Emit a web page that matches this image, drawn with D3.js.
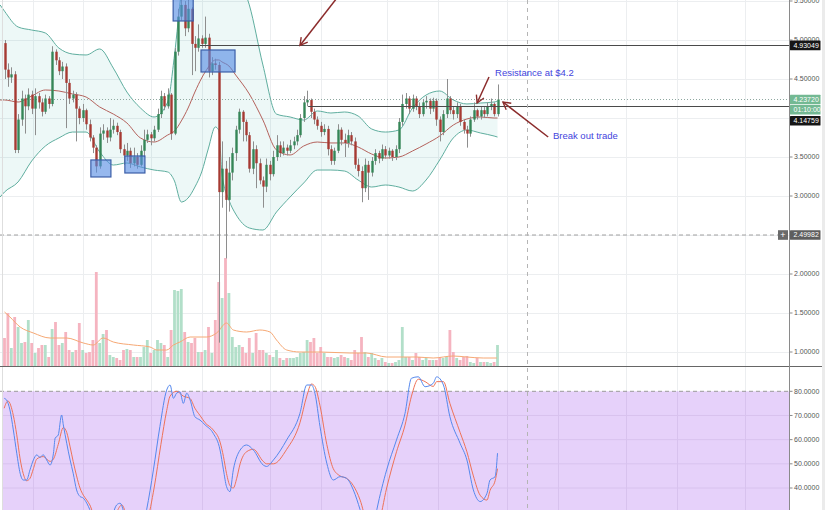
<!DOCTYPE html>
<html><head><meta charset="utf-8">
<script src="https://cdn.jsdelivr.net/npm/d3@7"></script>
<style>body{margin:0;background:#fff;overflow:hidden}svg{display:block;font-family:"Liberation Sans",Arial,sans-serif}</style>
</head><body><svg id="c" width="825" height="510"></svg>
<script>
// ---------- DATA ----------
const opens=[4.96,4.62,4.52,4.56,3.59,3.98,4.25,4.15,4.30,4.12,4.28,4.20,4.08,4.25,4.18,4.85,4.74,4.60,4.66,4.45,4.25,4.30,4.12,4.00,4.10,3.92,3.75,3.62,3.38,3.80,3.84,3.75,3.85,3.90,3.82,3.60,3.52,3.58,3.42,3.50,3.40,3.58,3.72,3.79,3.74,3.85,4.05,4.28,4.15,4.30,3.80,4.85,5.30,5.45,5.15,5.40,4.95,4.90,5.02,4.95,5.03,4.60,4.70,4.68,3.05,3.35,2.95,3.30,3.55,3.85,4.08,3.95,3.78,3.35,3.60,3.42,3.20,3.12,3.40,3.28,3.50,3.65,3.55,3.62,3.58,3.65,3.70,3.78,4.00,4.20,4.23,4.08,3.98,3.90,3.82,3.86,3.60,3.45,3.58,3.85,3.72,3.68,3.78,3.70,3.40,3.32,3.10,3.40,3.30,3.45,3.55,3.48,3.60,3.52,3.58,3.50,3.60,3.95,4.18,4.25,4.12,4.25,4.15,4.05,4.20,4.22,4.12,4.22,3.98,3.82,4.05,4.25,4.10,4.05,4.15,3.95,3.85,3.80,3.98,4.10,4.02,4.10,4.05,4.15,4.18,4.05];
const highs=[5.00,4.70,4.65,4.60,4.05,4.35,4.30,4.38,4.35,4.38,4.32,4.25,4.30,4.28,4.92,4.88,4.78,4.72,4.70,4.50,4.35,4.33,4.15,4.18,4.12,3.98,3.78,3.65,3.88,3.92,3.88,4.00,3.98,3.94,3.85,3.66,3.68,3.62,3.62,3.55,3.65,3.85,3.85,3.82,3.90,4.12,4.35,4.32,4.38,4.32,4.90,5.40,5.60,5.50,5.55,5.42,5.05,5.20,5.06,5.30,5.08,4.78,4.76,4.72,3.70,3.45,3.50,3.62,3.90,4.12,4.10,3.98,3.82,3.70,3.65,3.48,3.25,3.48,3.45,3.58,3.78,3.70,3.70,3.66,3.72,3.76,3.85,4.05,4.28,4.35,4.25,4.12,4.02,3.95,3.92,3.90,3.65,3.62,3.92,3.88,3.80,3.85,3.82,3.75,3.48,3.38,3.48,3.45,3.50,3.60,3.58,3.66,3.64,3.62,3.60,3.65,4.00,4.30,4.32,4.28,4.30,4.28,4.20,4.24,4.28,4.25,4.26,4.25,4.02,4.10,4.50,4.28,4.15,4.20,4.18,3.98,3.90,4.02,4.20,4.12,4.15,4.14,4.20,4.25,4.20,4.43];
const lows=[4.50,4.40,4.45,3.55,3.55,3.90,3.80,4.10,4.05,3.78,4.12,4.02,4.05,4.12,4.15,4.68,4.55,4.50,3.87,4.18,4.20,3.70,3.92,3.95,3.85,3.70,3.55,3.30,3.35,3.72,3.68,3.70,3.80,3.78,3.55,3.40,3.45,3.36,3.38,3.35,3.38,3.50,3.68,3.65,3.70,3.82,4.00,4.10,4.12,3.72,3.78,4.80,5.25,5.05,5.10,4.55,4.60,4.85,4.90,4.90,4.52,4.55,4.62,1.12,2.85,2.20,2.80,3.20,3.45,3.80,3.70,3.70,3.30,3.28,3.10,3.15,2.85,3.05,3.20,3.25,3.45,3.50,3.52,3.52,3.55,3.60,3.65,3.75,3.95,4.15,4.00,3.92,3.85,3.76,3.78,3.52,3.40,3.40,3.55,3.65,3.50,3.62,3.65,3.35,3.25,2.92,3.05,2.95,3.25,3.40,3.42,3.45,3.48,3.48,3.45,3.46,3.55,3.90,4.12,4.05,4.08,4.10,4.00,4.02,4.12,4.05,4.08,3.90,3.70,3.78,4.00,4.05,3.98,4.00,3.90,3.80,3.62,3.76,3.95,3.98,3.98,4.00,4.02,4.10,4.02,4.02];
const closes=[4.62,4.52,4.56,3.59,3.98,4.25,4.15,4.30,4.12,4.28,4.20,4.08,4.25,4.18,4.85,4.74,4.60,4.66,4.45,4.25,4.30,4.12,4.00,4.10,3.92,3.75,3.62,3.38,3.80,3.84,3.75,3.85,3.90,3.82,3.60,3.52,3.58,3.42,3.50,3.40,3.58,3.72,3.79,3.74,3.85,4.05,4.28,4.15,4.30,3.80,4.85,5.30,5.45,5.15,5.40,4.95,4.90,5.02,4.95,5.03,4.60,4.70,4.68,3.05,3.35,2.95,3.30,3.55,3.85,4.08,3.95,3.78,3.35,3.60,3.42,3.20,3.12,3.40,3.28,3.50,3.65,3.55,3.62,3.58,3.65,3.70,3.78,4.00,4.20,4.23,4.08,3.98,3.90,3.82,3.86,3.60,3.45,3.58,3.85,3.72,3.68,3.78,3.70,3.40,3.32,3.10,3.40,3.30,3.45,3.55,3.48,3.60,3.52,3.58,3.50,3.60,3.95,4.18,4.25,4.12,4.25,4.15,4.05,4.20,4.22,4.12,4.22,3.98,3.82,4.05,4.25,4.10,4.05,4.15,3.95,3.85,3.80,3.98,4.10,4.02,4.10,4.05,4.15,4.18,4.05,4.2372];
const volumes=[28,53,18,49,39,23,24,46,23,13,18,21,21,9,37,44,21,23,34,16,14,16,43,16,13,14,26,94,23,32,36,11,9,8,6,16,17,16,9,9,9,19,26,13,16,26,23,21,9,36,76,75,77,34,24,23,28,14,14,16,39,13,46,84,68,108,73,29,19,21,19,13,28,13,33,16,16,13,11,9,16,8,6,8,8,8,9,13,14,26,24,28,13,19,13,9,9,8,9,11,9,8,6,16,13,29,14,9,13,8,6,8,4,3,3,4,6,39,9,9,6,13,9,6,8,6,6,6,9,8,9,36,14,8,6,9,10,4,3,8,4,4,4,3,4,21];

// Bollinger bands (bar index, price)
const bbIdx=[-1.3,0,4,8,12,16,20,24,28,32,36,40,44,48,50,52,54,56,58,60,62,63,64,66,68,72,76,80,84,88,92,96,100,104,108,112,116,120,124,128,132,136,140,144,145];
const bbUpper=[5.45,5.37,5.167,5.128,5.09,4.897,4.82,4.808,4.885,4.64,4.333,4.128,4.013,4.205,4.808,5.615,6.15,6.41,6.51,6.47,6.36,6.31,6.22,6.05,5.87,5.45,4.68,4.05,4.013,3.974,4.09,4.064,4.077,4.026,3.859,3.82,3.846,4.128,4.295,4.346,4.231,4.18,4.192,4.205,4.218];
const bbMiddle=[4.231,4.231,4.205,4.282,4.359,4.346,4.308,4.269,4.141,4.051,3.936,3.744,3.692,3.782,3.833,3.962,4.128,4.333,4.513,4.654,4.744,4.744,4.718,4.667,4.551,4.308,3.974,3.59,3.526,3.641,3.692,3.68,3.68,3.628,3.538,3.487,3.5,3.577,3.667,3.769,3.91,3.987,4.013,4.0,4.0];
const bbLower=[2.987,3.051,3.18,3.449,3.64,3.744,3.82,3.82,3.564,3.397,3.423,3.372,3.333,3.308,3.192,2.923,2.974,3.115,3.308,3.615,3.885,3.846,3.269,2.949,2.769,2.59,2.564,2.795,2.987,3.167,3.333,3.333,3.32,3.205,3.115,3.141,3.115,3.064,3.205,3.462,3.744,3.846,3.808,3.769,3.756];

// Volume moving average
const vmaIdx=[0,1.6,4.6,8.5,13.4,18.3,23.2,26.1,29,32,37.9,42.8,44.8,47.7,49.7,51.6,54.6,59.5,62.4,65.3,67.3,71.2,75.1,78.1,80,83,86.9,92.8,101.6,106.5,112.4,121.2,126.1,132,135.9,140.8,144.8];
const vmaVal=[54,49,39,33,28,28,23,21,28,24,21,19,16,16,21,24,29,29,33,43,36,34,36,34,26,16,14,14,13,13,9,9,8,10,9,8,8];

// Stochastic %K / %D
const kIdx=[-0.1,0.6,1.6,2.6,3.6,4.6,5.5,6.5,7.5,8.5,9.5,10.4,11.4,12.4,13.4,14.4,14.9,15.8,16.8,17.3,18.3,19.3,20.2,21.2,22.2,23.2,24.2,25.1,27,29,31,33,34,36,38,40,41.8,43.8,45.7,47.7,48.7,49.7,50.6,51.6,52.6,53.6,54.6,56,57.5,59,61.4,63.4,64.4,65.3,66.3,67.3,69.3,71.2,73.2,76.1,77.1,79.1,83,86.9,88.9,90.3,91.3,92.8,94.8,96.7,98.7,100.6,102.6,104.6,106.5,108.5,109.5,112.4,115.3,117.8,119.7,121.7,123.7,126.1,127.1,129.1,131,134,136,137.9,139.9,141.9,142.8,144.3,145];
const kVal=[77.1,76.4,72.3,64.0,54.4,46.1,43.3,43.3,47.5,51.6,53.7,52.7,53.7,51.6,49.5,54.4,60.6,61.9,70.2,66.1,58.5,51.6,46.1,39.2,36.5,35.8,33.7,31,22,18,25,33,33.7,25,18,20,31,47.5,65.4,80.5,82.6,77.1,79.2,79.8,75.0,79.2,76.4,69.5,68.1,66.1,62.6,55.7,47.5,40.6,38.5,47.5,55.7,57.8,55.7,49.5,48.9,51.6,59.9,70.9,82.6,82.6,79.2,65.4,50.2,43.3,44.7,44.0,39.2,31,22,24,31,47.5,59.9,70.9,85.4,86.0,81.9,83.3,86.0,82.6,69.5,58.5,51.6,39.2,34.4,37.8,43.3,44.7,54.4];
const dIdx=[-0.1,1,2.6,3.6,4.6,5.5,6.5,7.5,8.5,9.5,11.4,13.4,14.4,15.8,17.3,18.3,19.3,20.2,21.2,22.2,23.2,24.2,25.1,27,29,31,33,34.5,36,38,40,42,44,46,47.7,48.7,50.6,52.6,54.6,56,57.5,59,61.4,63.4,64.4,65.3,66.3,67.3,68.3,69.3,71.2,73.2,76.1,77.1,79.1,83,86.9,88.9,90.3,91.3,92.8,94.8,96.7,98.7,100.6,102.6,104.6,106.5,108.5,110,112.4,115.3,117.8,119.7,121.7,123.7,126.1,127.1,129.1,131,134,136,137.9,139.9,141.9,142.8,144.3,145];
const dVal=[73,76,70,62,52,46,43,44,48,52,53,51,52,58,65,63,57,51,45,40,37,35,33,25,20,22,30,33,28,20,18,26,40,58,72,78,80,78,77,73,70,67,64,59,53,46,41,40,44,50,55,56,51,50,50,56,67,78,83,82,74,58,48,45,44,41,35,26,22,25,40,55,66,78,85,84,82,84,84,75,63,55,45,37,35,39,43,48];

// Axis ticks and time grid
const priceTicks=[1.0,1.5,2.0,2.5,3.0,3.5,4.0,4.5,5.0,5.5];
const stochTicks=[40,50,60,70,80];
const timeGridIdx=[8.4,23.1,43.1,58.1,78.1,93.1,112.5,127.5,147.8,162.8,182.8,197.8,217.8];

// Drawings / annotations
const levelLines=[{price:4.93049,from:57.5},{price:4.14759,from:89.3}];
const boxes=[{i0:25.4,i1:31.3,p0:3.462,p1:3.244},{i0:35.4,i1:41.3,p0:3.513,p1:3.295},{i0:49.6,i1:55.5,p0:5.52,p1:5.244},{i0:57.8,i1:67.8,p0:4.872,p1:4.59}];
const arrows=[{fi:97.8,fp:5.54,ti:86.9,tp:4.93},{fi:142.5,fp:4.526,ti:139,tp:4.192},{fi:159.9,fp:3.756,ti:146.6,tp:4.205}];
const notes=[{text:"Resistance at $4.2",i:144.3,p:4.539},{text:"Break out trade",i:161.3,p:3.731}];
const lastPrice=4.2372, countdown="01:10:00", crossPrice=2.49982, markerIdx=153.7;

// ---------- DRAW ----------
const svg=d3.select("#c");
const W=789;
const x=d3.scaleLinear().domain([0,145]).range([4.5,497.5]);
const yP=d3.scaleLinear().domain([1,5.5]).range([352,1]);
const yV=d3.scaleLinear().domain([0,108]).range([366,258]);
const yS=d3.scaleLinear().domain([40,80]).range([488,391.3]);

const defs=svg.append("defs");
defs.append("clipPath").attr("id","cm").append("rect").attr("x",0).attr("y",0).attr("width",W).attr("height",366);
defs.append("clipPath").attr("id","cs").append("rect").attr("x",0).attr("y",367).attr("width",W).attr("height",143);
defs.append("marker").attr("id","ah").attr("markerUnits","userSpaceOnUse").attr("viewBox","-1 -6 12 12")
  .attr("refX",9).attr("refY",0).attr("markerWidth",11).attr("markerHeight",11).attr("orient","auto")
  .append("path").attr("d","M1,-4.5L9,0L1,4.5").attr("fill","none").attr("stroke","#8b2b2b").attr("stroke-width",1.5);

svg.append("rect").attr("width",825).attr("height",510).attr("fill","#fff");

// grids
const g=svg.append("g");
g.selectAll(".hg").data(priceTicks).join("line").attr("x1",0).attr("x2",W)
  .attr("y1",d=>Math.round(yP(d))+0.5).attr("y2",d=>Math.round(yP(d))+0.5).attr("stroke","#eceef0");
g.selectAll(".vg").data(timeGridIdx).join("line").attr("y1",0).attr("y2",510)
  .attr("x1",d=>Math.round(x(d))+0.5).attr("x2",d=>Math.round(x(d))+0.5).attr("stroke","#eceef0");

// stochastic band fill
const sg=svg.append("g").attr("clip-path","url(#cs)");
sg.append("rect").attr("x",3).attr("width",W-3).attr("y",yS(80)).attr("height",200).attr("fill","#e6d1fa");
sg.selectAll(".sgl").data(stochTicks.filter(d=>d<80)).join("line").attr("x1",3).attr("x2",W)
  .attr("y1",d=>yS(d)).attr("y2",d=>yS(d)).attr("stroke","#d8c2ee");
sg.selectAll(".svg").data(timeGridIdx).join("line").attr("y1",yS(80)).attr("y2",510)
  .attr("x1",d=>Math.round(x(d))+0.5).attr("x2",d=>Math.round(x(d))+0.5).attr("stroke","#d8c2ee");
sg.append("line").attr("x1",0).attr("x2",W).attr("y1",yS(80)).attr("y2",yS(80))
  .attr("stroke","#9a9a9a").attr("stroke-dasharray","4,3");
const kPts=kIdx.map((d,i)=>[x(d),yS(kVal[i])]);
const dPts=dIdx.map((d,i)=>[x(d),yS(dVal[i])]);
const ln=d3.line().curve(d3.curveMonotoneX);
sg.append("path").attr("d",ln(dPts)).attr("fill","none").attr("stroke","#ee7258").attr("stroke-width",1);
sg.append("path").attr("d",ln(kPts)).attr("fill","none").attr("stroke","#5588ee").attr("stroke-width",1);

// main pane
const mg=svg.append("g").attr("clip-path","url(#cm)");
const area=d3.area().x((d,i)=>x(bbIdx[i])).y0((d,i)=>yP(bbLower[i])).y1((d,i)=>yP(bbUpper[i])).curve(d3.curveMonotoneX);
mg.append("path").attr("d",area(bbIdx)).attr("fill","rgba(0,150,140,0.07)");
const bl=arr=>d3.line().x((d,i)=>x(bbIdx[i])).y((d,i)=>yP(arr[i])).curve(d3.curveMonotoneX)(bbIdx);
mg.append("path").attr("d",bl(bbUpper)).attr("fill","none").attr("stroke","#5fae9f").attr("stroke-width",1);
mg.append("path").attr("d",bl(bbLower)).attr("fill","none").attr("stroke","#5fae9f").attr("stroke-width",1);
mg.append("path").attr("d",bl(bbMiddle)).attr("fill","none").attr("stroke","#b4625c").attr("stroke-width",1);

// reference lines
mg.append("line").attr("x1",0).attr("x2",W).attr("y1",yP(crossPrice)).attr("y2",yP(crossPrice))
  .attr("stroke","#a0a0a0").attr("stroke-dasharray","4,3");
mg.append("line").attr("x1",0).attr("x2",W).attr("y1",Math.round(yP(lastPrice))+0.5).attr("y2",Math.round(yP(lastPrice))+0.5)
  .attr("stroke","#8fa8a0").attr("stroke-dasharray","1,2");

// volume
const idx=d3.range(closes.length);
mg.selectAll(".vb").data(idx).join("rect").attr("x",i=>x(i)-1.4).attr("width",2.8)
  .attr("y",i=>yV(volumes[i])).attr("height",i=>yV(0)-yV(volumes[i]))
  .attr("fill",i=>closes[i]>=opens[i]?"#b2dfc9":"#f5b4c0");
mg.append("path").attr("d",d3.line().curve(d3.curveMonotoneX)(vmaIdx.map((d,i)=>[x(d),yV(vmaVal[i])])))
  .attr("fill","none").attr("stroke","#f6a874").attr("stroke-width",1);

// candles
mg.selectAll(".wk").data(idx).join("line").attr("x1",i=>Math.round(x(i))+0.5).attr("x2",i=>Math.round(x(i))+0.5)
  .attr("y1",i=>yP(highs[i])).attr("y2",i=>yP(lows[i])).attr("stroke","#8e8e8e").attr("stroke-width",1);
mg.selectAll(".bd").data(idx).join("rect").attr("x",i=>Math.round(x(i))+0.5-1.2).attr("width",2.4)
  .attr("y",i=>yP(Math.max(opens[i],closes[i])))
  .attr("height",i=>Math.max(1,Math.abs(yP(opens[i])-yP(closes[i]))))
  .attr("fill",i=>closes[i]>=opens[i]?"#358657":"#a63a32");

// level lines
mg.selectAll(".lv").data(levelLines).join("line").attr("x1",d=>x(d.from)).attr("x2",W)
  .attr("y1",d=>Math.round(yP(d.price))+0.5).attr("y2",d=>Math.round(yP(d.price))+0.5)
  .attr("stroke","#4a4a4a").attr("stroke-width",1);

// boxes
mg.selectAll(".bx").data(boxes).join("rect").attr("x",d=>x(d.i0)).attr("width",d=>x(d.i1)-x(d.i0))
  .attr("y",d=>yP(d.p0)).attr("height",d=>yP(d.p1)-yP(d.p0))
  .attr("fill","rgba(86,140,228,0.62)").attr("stroke","#3b5ea8").attr("stroke-width",1.2);

// marker vertical
svg.append("line").attr("x1",Math.round(x(markerIdx))+0.5).attr("x2",Math.round(x(markerIdx))+0.5).attr("y1",0).attr("y2",510)
  .attr("stroke","#b5b5b5").attr("stroke-dasharray","4,4");

// arrows
svg.selectAll(".ar").data(arrows).join("line").attr("x1",d=>x(d.fi)).attr("y1",d=>yP(d.fp))
  .attr("x2",d=>x(d.ti)).attr("y2",d=>yP(d.tp)).attr("stroke","#8b2b2b").attr("stroke-width",1.5)
  .attr("marker-end","url(#ah)");
svg.selectAll(".nt").data(notes).join("text").attr("x",d=>x(d.i)).attr("y",d=>yP(d.p))
  .attr("font-size",9.5).attr("fill","#4444dd").text(d=>d.text);

// separators and borders
svg.append("line").attr("x1",2.5).attr("x2",2.5).attr("y1",0).attr("y2",510).attr("stroke","#dedede");
svg.append("line").attr("x1",0).attr("x2",822).attr("y1",366.5).attr("y2",366.5).attr("stroke","#666");
svg.append("line").attr("x1",W+0.5).attr("x2",W+0.5).attr("y1",0).attr("y2",510).attr("stroke","#8a8a8a");
svg.append("rect").attr("x",822).attr("y",0).attr("width",3).attr("height",510).attr("fill","#ebebeb");

// tags on the price scale (the label of a tick lying under a tag is hidden, as on the original)
const tags=[
  {y:yP(4.93049),txt:d3.format(".5f")(4.93049),bg:"#161616"},
  {y:yP(lastPrice),txt:d3.format(".5f")(lastPrice),bg:"#73b993"},
  {y:yP(lastPrice)+10.2,txt:countdown,bg:"#73b993"},
  {y:yP(lastPrice)+21.3,txt:d3.format(".5f")(4.14759),bg:"#161616"},
  {y:yP(crossPrice),txt:d3.format(".5f")(crossPrice),bg:"#5e5e5e"}
];
const hidden=d=>tags.some(t=>Math.abs(t.y-yP(d))<4);

// right axes
const ax=svg.append("g").attr("font-size",7).attr("fill","#555");
const pa=ax.selectAll(".pt").data(priceTicks).join("g").attr("transform",d=>`translate(${W},${yP(d)})`);
pa.append("line").attr("x1",0.5).attr("x2",3.5).attr("stroke","#8a8a8a");
pa.filter(d=>!hidden(d)).append("text").attr("x",5).attr("dy","0.35em").text(d=>d3.format(".5f")(d));
const sa=ax.selectAll(".st").data(stochTicks).join("g").attr("transform",d=>`translate(${W},${yS(d)})`);
sa.append("line").attr("x1",0.5).attr("x2",3.5).attr("stroke","#8a8a8a");
sa.append("text").attr("x",5).attr("dy","0.35em").text(d=>d3.format(".4f")(d));

tags.forEach(tg=>{
  const x0=W+1;
  const t=svg.append("g").attr("transform",`translate(${x0},${tg.y})`);
  t.append("rect").attr("x",0).attr("y",-4.8).attr("width",820-x0+0.5).attr("height",9.6).attr("fill",tg.bg).attr("rx",0.5);
  t.append("text").attr("x",3.5).attr("dy","0.35em").attr("font-size",7).attr("fill","#fff").text(tg.txt);
});
const cp=svg.append("g").attr("transform",`translate(778,${yP(crossPrice)})`);
cp.append("rect").attr("x",0).attr("y",-4.8).attr("width",10).attr("height",9.6).attr("fill","#6a6a6a");
cp.append("text").attr("x",5).attr("dy","0.35em").attr("text-anchor","middle").attr("font-size",9).attr("fill","#fff").text("+");
</script></body></html>
